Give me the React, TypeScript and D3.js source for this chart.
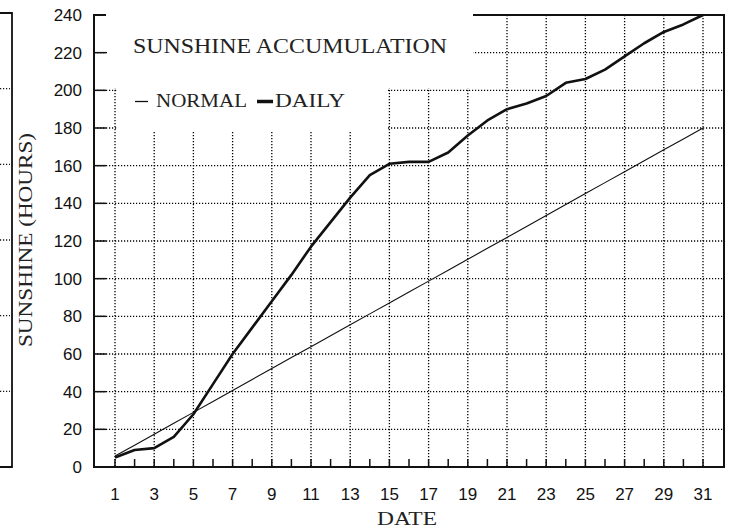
import React from "react";
import * as d3 from "d3";

// values
const days = [1, 2, 3, 4, 5, 6, 7, 8, 9, 10, 11, 12, 13, 14, 15, 16, 17, 18, 19, 20, 21, 22, 23, 24, 25, 26, 27, 28, 29, 30, 31];
const normalHours = [5.8, 11.6, 17.4, 23.2, 29.0, 34.8, 40.6, 46.5, 52.3, 58.1, 63.9, 69.7, 75.5, 81.3, 87.1, 92.9, 98.7, 104.5, 110.3, 116.1, 121.9, 127.7, 133.5, 139.4, 145.2, 151.0, 156.8, 162.6, 168.4, 174.2, 180.0];
const dailyHours = [5, 9, 10, 16, 28, 44, 60, 74, 88, 102, 117, 130, 143, 155, 161, 162, 162, 167, 176, 184, 190, 193, 197, 204, 206, 211, 218, 225, 231, 235, 240];
const yTicks = [0, 20, 40, 60, 80, 100, 120, 140, 160, 180, 200, 220, 240];
const xLabels = [1, 3, 5, 7, 9, 11, 13, 15, 17, 19, 21, 23, 25, 27, 29, 31];

const W = 734;
const H = 532;
const serif = "'Liberation Serif', 'Times New Roman', serif";
const sans = "'Liberation Sans', Arial, sans-serif";
const ink = "#111";

const App: React.FC = () => {
  const x = d3.scaleLinear().domain([0, 32]).range([95.4, 722.6]);
  const y = d3.scaleLinear().domain([0, 240]).range([467, 15]);
  const left = 94;
  const right = 724;
  const top = y(240);
  const bottom = y(0);

  // edge of the neighbouring chart on the left
  const ny = d3.scaleLinear().domain([0, 6]).range([467, 13]);

  const line = d3
    .line<number>()
    .x((_, i) => x(days[i]))
    .y((d) => y(d));

  return (
    <svg
      width={W}
      height={H}
      style={{ position: "absolute", left: 0, top: 0, background: "#fff" }}
    >
      <rect width={W} height={H} fill="#fff" />

      {/* neighbour frame */}
      <path
        d={`M0,${ny(6)}H12V${ny(0)}H0`}
        fill="none"
        stroke={ink}
        strokeWidth={1.8}
      />
      {[1, 2, 3, 4, 5].map((t) => (
        <line
          key={t}
          x1={0}
          x2={10}
          y1={ny(t)}
          y2={ny(t)}
          stroke="#111"
          strokeWidth={1.3}
          strokeDasharray="1.2,1.8"
        />
      ))}

      {/* grid */}
      <g stroke="#000" strokeWidth={1.3} strokeDasharray="1.2,1.8">
        {yTicks
          .filter((t) => t > 0 && t < 240)
          .map((t) => (
            <line key={"h" + t} x1={left} x2={right} y1={y(t)} y2={y(t)} />
          ))}
        {xLabels.map((d) => (
          <line key={"v" + d} x1={x(d)} x2={x(d)} y1={top} y2={bottom} />
        ))}
      </g>

      {/* title and legend boxes */}
      <rect x={107} y={top - 2} width={366} height={75} fill="#fff" />
      <rect x={117} y={87} width={271} height={44} fill="#fff" />

      <text
        x={133}
        y={53}
        fontFamily={serif}
        fontSize={22}
        textLength={314}
        lengthAdjust="spacingAndGlyphs"
        fill="#222"
      >
        SUNSHINE ACCUMULATION
      </text>

      <line x1={135} x2={148} y1={101.5} y2={101.5} stroke={ink} strokeWidth={1.3} />
      <text
        x={156}
        y={107}
        fontFamily={serif}
        fontSize={19}
        textLength={91}
        lengthAdjust="spacingAndGlyphs"
        fill="#222"
      >
        NORMAL
      </text>
      <line x1={257} x2={273} y1={101.5} y2={101.5} stroke={ink} strokeWidth={3.5} />
      <text
        x={275}
        y={107}
        fontFamily={serif}
        fontSize={19}
        textLength={70}
        lengthAdjust="spacingAndGlyphs"
        fill="#222"
      >
        DAILY
      </text>

      {/* ticks */}
      <g stroke={ink} strokeWidth={1.5}>
        {yTicks.map((t) => (
          <line key={"yt" + t} x1={left} x2={left + 12} y1={y(t)} y2={y(t)} />
        ))}
        {days.map((d) => (
          <line key={"xt" + d} x1={x(d)} x2={x(d)} y1={bottom} y2={bottom - 8} />
        ))}
      </g>

      {/* frame */}
      <path
        d={`M473,${top}H${right}V${bottom}H${left}V${top}H${left + 12}`}
        fill="none"
        stroke={ink}
        strokeWidth={2}
      />

      {/* series */}
      <path d={line(normalHours) ?? ""} fill="none" stroke={ink} strokeWidth={1.1} />
      <path
        d={line(dailyHours) ?? ""}
        fill="none"
        stroke={ink}
        strokeWidth={2.6}
        strokeLinejoin="round"
      />

      {/* tick labels */}
      <g fontFamily={sans} fontSize={17} fill="#111">
        {yTicks.map((t) => (
          <text key={"yl" + t} x={82} y={y(t) + 6} textAnchor="end">
            {t}
          </text>
        ))}
        {xLabels.map((d) => (
          <text key={"xl" + d} x={x(d)} y={500} textAnchor="middle">
            {d}
          </text>
        ))}
      </g>

      {/* axis titles */}
      <text
        x={407}
        y={525}
        textAnchor="middle"
        fontFamily={serif}
        fontSize={19}
        textLength={60}
        lengthAdjust="spacingAndGlyphs"
        fill="#222"
      >
        DATE
      </text>
      <text
        transform="translate(32,240) rotate(-90)"
        textAnchor="middle"
        fontFamily={serif}
        fontSize={18}
        textLength={214}
        lengthAdjust="spacingAndGlyphs"
        fill="#222"
      >
        SUNSHINE (HOURS)
      </text>
    </svg>
  );
};

export default App;
